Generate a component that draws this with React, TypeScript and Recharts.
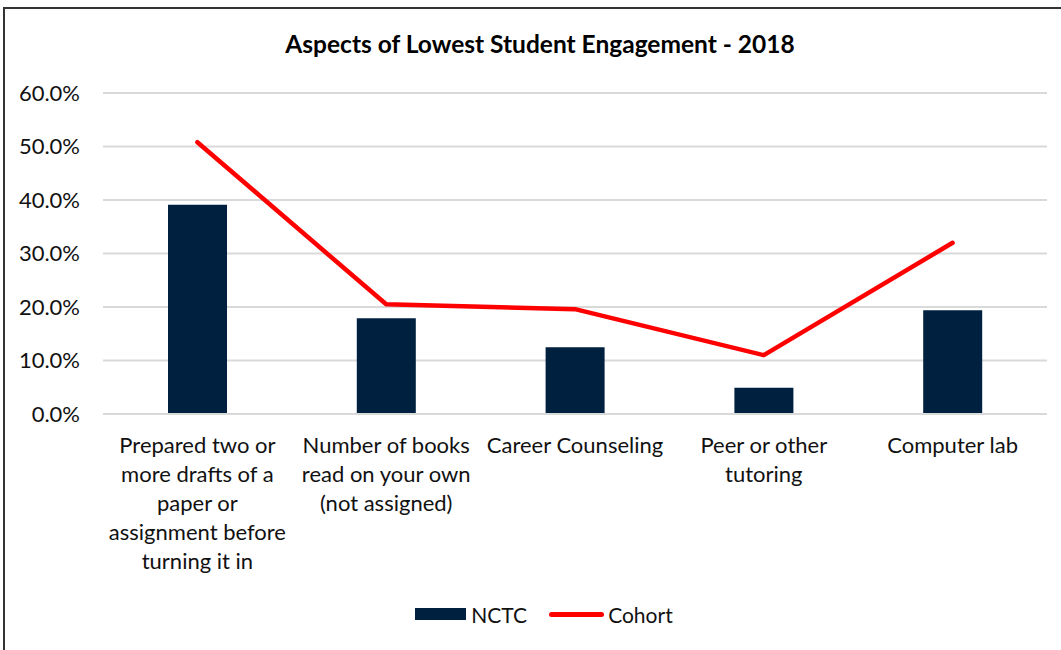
import React from 'react';
import { ComposedChart, Bar, Line, XAxis, YAxis, CartesianGrid, Legend } from 'recharts';

const categories = [
  'Prepared two or more drafts of a paper or assignment before turning it in',
  'Number of books read on your own (not assigned)',
  'Career Counseling',
  'Peer or other tutoring',
  'Computer lab',
];
const categoryLines = [
  ['Prepared two or', 'more drafts of a', 'paper or', 'assignment before', 'turning it in'],
  ['Number of books', 'read on your own', '(not assigned)'],
  ['Career Counseling'],
  ['Peer or other', 'tutoring'],
  ['Computer lab'],
];
const nctcValues = [39.1, 17.9, 12.5, 4.9, 19.4];
const cohortValues = [50.8, 20.5, 19.6, 11.0, 32.0];
const yTicks = [0, 10, 20, 30, 40, 50, 60];
const seriesNames = { nctc: 'NCTC', cohort: 'Cohort' };
const title = 'Aspects of Lowest Student Engagement - 2018';

const data = categories.map((c, i) => ({
  category: c,
  nctc: nctcValues[i],
  cohort: cohortValues[i],
}));

const FONT = 'Lato, "Open Sans", sans-serif';
const NAVY = '#00203F';
const RED = '#FF0000';

const XTick = (props: any) => {
  const { x, y, payload } = props;
  const idx = categories.indexOf(payload.value);
  const lines = categoryLines[idx] || [payload.value];
  return (
    <g transform={`translate(${x},${y})`}>
      {lines.map((l, i) => (
        <text
          key={i}
          x={0}
          y={i * 29}
          dy={31}
          textAnchor="middle"
          fill="#111"
          fontSize={22}
          fontFamily={FONT}
        >
          {l}
        </text>
      ))}
    </g>
  );
};

const LegendContent = () => (
  <div
    style={{
      display: 'flex',
      justifyContent: 'center',
      alignItems: 'center',
      fontFamily: FONT,
      fontSize: 21,
      color: '#111',
      height: 30,
      paddingLeft: 41,
    }}
  >
    <div style={{ display: 'flex', alignItems: 'center', marginRight: 22 }}>
      <div style={{ width: 51, height: 12, background: NAVY, marginRight: 5 }} />
      <span>{seriesNames.nctc}</span>
    </div>
    <div style={{ display: 'flex', alignItems: 'center' }}>
      <div style={{ width: 55, height: 5, borderRadius: 3, background: RED, marginRight: 4 }} />
      <span>{seriesNames.cohort}</span>
    </div>
  </div>
);

export default function App() {
  return (
    <div style={{ position: 'fixed', left: 0, top: 0, width: 1061, height: 650, overflow: 'hidden', background: '#fff' }}>
      <div
        style={{
          position: 'absolute',
          left: 3,
          top: 7,
          width: 1074,
          height: 700,
          border: '2px solid #333',
          boxSizing: 'border-box',
        }}
      />
      <div
        style={{
          position: 'absolute',
          left: 3,
          width: 1074,
          top: 29,
          textAlign: 'center',
          fontFamily: FONT,
          fontWeight: 700,
          fontSize: 24.5,
          color: '#000',
        }}
      >
        {title}
      </div>
      <div style={{ position: 'absolute', left: 0, top: 0 }}>
        <ComposedChart
          width={1061}
          height={650}
          data={data}
          margin={{ top: 93, right: 14, bottom: 56, left: 0 }}
        >
          <CartesianGrid vertical={false} stroke="#d9d9d9" strokeWidth={2} />
          <XAxis
            dataKey="category"
            tick={<XTick />}
            tickLine={false}
            axisLine={{ stroke: '#d9d9d9', strokeWidth: 2 }}
            interval={0}
            height={150}
          />
          <YAxis
            domain={[0, 60]}
            ticks={yTicks}
            tickFormatter={(v: number) => v.toFixed(1) + '%'}
            tick={{ fontSize: 22, fontFamily: FONT, fill: '#111' }}
            tickLine={false}
            axisLine={false}
            tickMargin={17}
            width={103}
            interval={0}
          />
          <Bar dataKey="nctc" name={seriesNames.nctc} fill={NAVY} barSize={59} isAnimationActive={false} />
          <Line
            dataKey="cohort"
            name={seriesNames.cohort}
            type="linear"
            stroke={RED}
            strokeWidth={4.5}
            strokeLinecap="round"
            strokeLinejoin="round"
            dot={false}
            activeDot={false}
            isAnimationActive={false}
          />
          <Legend verticalAlign="bottom" content={<LegendContent />} wrapperStyle={{ bottom: 21 }} />
        </ComposedChart>
      </div>
    </div>
  );
}
